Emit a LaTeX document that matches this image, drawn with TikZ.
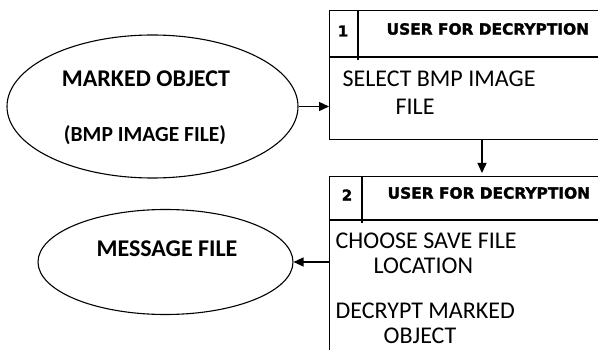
\documentclass[tikz,border=0pt]{standalone}
\usepackage{fontspec}
\setmainfont{Carlito}
\newfontfamily\headfont[BoldFeatures={FakeBold=1.8}]{DejaVu Sans}
\usetikzlibrary{arrows.meta,shapes.geometric}
\begin{document}
\begin{tikzpicture}[x=1pt,y=-1pt,
  line width=1.3pt,
  oval/.style={draw, ellipse, inner sep=0pt, line width=1.1pt},
  card/.style={draw, rectangle, inner sep=0pt, anchor=north west},
  flow/.style={-{Triangle[length=10pt,width=9pt]}, line width=1.4pt},
  title/.style={font=\headfont\bfseries\fontsize{15.4}{18}\selectfont, anchor=west, inner sep=0pt},
  num/.style={font=\headfont\bfseries\fontsize{15}{17}\selectfont, inner sep=0pt},
  body/.style={font=\fontsize{24}{26}\selectfont, anchor=base west, inner sep=0pt},
  ovaltext/.style={font=\bfseries\fontsize{#1}{26}\selectfont, inner sep=0pt}]
\useasboundingbox (0,0) rectangle (598,350);
\clip (0,0) rectangle (598,350);

% ellipses
\node[oval, minimum width=291pt, minimum height=143pt] (mo) at (152.5,106.5) {};
\node[ovaltext=24] (moa) at (146,79) {MARKED OBJECT};
\node[ovaltext=21.5] (mob) at (145,135) {(BMP IMAGE FILE)};

\node[oval, minimum width=255pt, minimum height=105pt] (mf) at (165.5,262) {};
\node[ovaltext=24] (mft) at (167,249) {MESSAGE FILE};

% process box 1
\node[card, minimum width=320pt, minimum height=129pt] (box1) at (329,10) {};
\coordinate (h1) at (0,57);
\draw (box1.west |- h1) -- (box1.east |- h1);
\coordinate (d1) at (358,60);
\draw (box1.north -| d1) -- (d1);
\node[num] (n1) at (343,31) {1};
\node[title] (t1) at (386,29) {USER FOR DECRYPTION};
\node[body] (s1) at (342,87) {SELECT BMP IMAGE};
\node[body] (s2) at (395,115) {FILE};

% process box 2
\node[card, minimum width=320pt, minimum height=220pt] (box2) at (329,176) {};
\coordinate (h2) at (0,220);
\draw (box2.west |- h2) -- (box2.east |- h2);
\coordinate (d2) at (362,223);
\draw (box2.north -| d2) -- (d2);
\node[num] (n2) at (347,195) {2};
\node[title] (t2) at (387,193) {USER FOR DECRYPTION};
\node[body] (c1) at (335,249) {CHOOSE SAVE FILE};
\node[body] (c2) at (373,273.5) {LOCATION};
\node[body] (c3) at (335,319) {DECRYPT MARKED};
\node[body] (c4) at (383,343) {OBJECT};

% connectors
\draw[flow] (mo.east) -- (mo.east -| box1.west);
\coordinate (v) at (482,0);
\draw[flow, shorten >=3pt] (box1.south -| v) -- (box2.north -| v);
\draw[flow] (box2.west |- mf.east) -- (mf.east);
\end{tikzpicture}
\end{document}
